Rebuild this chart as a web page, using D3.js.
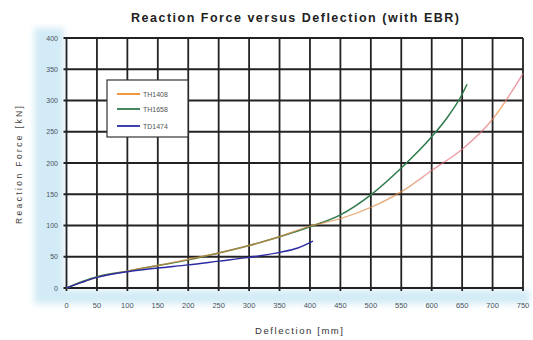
<!DOCTYPE html>
<html>
<head>
<meta charset="utf-8">
<script src="https://cdn.jsdelivr.net/npm/d3@7"></script>
<style>
  body { margin: 0; background: #fff; }
  svg { display: block; font-family: "Liberation Sans", Arial, sans-serif; }
</style>
</head>
<body>
<svg id="chart" width="533" height="340"></svg>
<script>
// data
var xTicks = [0, 50, 100, 150, 200, 250, 300, 350, 400, 450, 500, 550, 600, 650, 700, 750];
var yTicks = [0, 50, 100, 150, 200, 250, 300, 350, 400];

var th1658X = [0, 25, 50, 100, 150, 200, 250, 300, 350, 400, 450, 500, 550, 600, 625, 650, 658];
var th1658Y = [0, 10, 18, 27, 36, 45, 56, 68, 82, 98, 117, 149, 192, 242, 272, 310, 326];

var th1408X = [0, 25, 50, 100, 150, 200, 250, 300, 350, 400, 450, 500, 550, 600, 650, 700, 750];
var th1408Y = [0, 9, 17, 27, 36, 46, 56, 68, 82, 99, 111, 129, 154, 188, 222, 270, 343];

var td1474X = [0, 25, 50, 100, 150, 200, 250, 300, 350, 380, 405];
var td1474Y = [0, 9, 17, 26, 32, 37, 43, 49, 57, 64, 75];

var seriesNames = ["TH1408", "TH1658", "TD1474"];
var seriesColors = ["#f08c2a", "#2f7a4c", "#2b2ba3"];

var svg = d3.select("#chart");
var plotLeft = 66.5, plotRight = 523, plotTop = 38, plotBottom = 288;

var x = d3.scaleLinear().domain([0, 750]).range([plotLeft, plotRight]);
var y = d3.scaleLinear().domain([0, 400]).range([plotBottom, plotTop]);

var defs = svg.append("defs");
defs.append("filter").attr("id", "soft")
  .attr("x", "-20%").attr("y", "-20%").attr("width", "140%").attr("height", "140%")
  .append("feGaussianBlur").attr("stdDeviation", 3);

// orange line turns pinkish further out
var grad = defs.append("linearGradient").attr("id", "th1408grad")
  .attr("gradientUnits", "userSpaceOnUse")
  .attr("x1", x(0)).attr("x2", x(750)).attr("y1", 0).attr("y2", 0);
[[0, "#f08c2a"], [560, "#d98a4a"], [600, "#e2707c"], [690, "#e2687a"],
 [712, "#f08c2a"], [728, "#e2707c"], [750, "#e2687a"]].forEach(function (s) {
  grad.append("stop").attr("offset", s[0] / 750).attr("stop-color", s[1]);
});

// light blue band behind the tick labels
var band = svg.append("g").attr("filter", "url(#soft)");
band.append("rect").attr("x", 34).attr("y", 28).attr("width", 30).attr("height", 274).attr("fill", "#d3ebf6");
band.append("rect").attr("x", 34).attr("y", 290).attr("width", 496).attr("height", 14).attr("fill", "#d3ebf6");

// grid
svg.append("g").selectAll("line").data(xTicks).enter().append("line")
  .attr("x1", function (d) { return x(d); }).attr("x2", function (d) { return x(d); })
  .attr("y1", plotTop).attr("y2", plotBottom + 3)
  .attr("stroke", "#222").attr("stroke-width", 1.8);
svg.append("g").selectAll("line").data(yTicks).enter().append("line")
  .attr("x1", plotLeft - 3).attr("x2", plotRight)
  .attr("y1", function (d) { return y(d); }).attr("y2", function (d) { return y(d); })
  .attr("stroke", "#222").attr("stroke-width", 1.8);

// tick labels
svg.append("g").selectAll("text").data(xTicks).enter().append("text")
  .attr("x", function (d) { return x(d); }).attr("y", 308)
  .attr("text-anchor", "middle").attr("font-size", 7.5).attr("fill", "#4a5560")
  .text(function (d) { return d; });
svg.append("g").selectAll("text").data(yTicks).enter().append("text")
  .attr("x", 58).attr("y", function (d) { return y(d) + 2.5; })
  .attr("text-anchor", "end").attr("font-size", 7).attr("fill", "#4a5560")
  .text(function (d) { return d; });

// curves
var line = d3.line().x(function (d) { return x(d[0]); }).y(function (d) { return y(d[1]); })
  .curve(d3.curveMonotoneX);
var zip = function (a, b) { return a.map(function (v, i) { return [v, b[i]]; }); };

var plot = svg.append("g");
plot.append("path").datum(zip(th1658X, th1658Y)).attr("d", line)
  .attr("fill", "none").attr("stroke", seriesColors[1]).attr("stroke-width", 1.5);
plot.append("path").datum(zip(th1408X, th1408Y)).attr("d", line)
  .attr("fill", "none").attr("stroke", "url(#th1408grad)").attr("stroke-width", 1.5)
  .attr("stroke-opacity", 0.65);
plot.append("path").datum(zip(td1474X, td1474Y)).attr("d", line)
  .attr("fill", "none").attr("stroke", seriesColors[2]).attr("stroke-width", 1.5);

// legend
var lg = svg.append("g").attr("transform", "translate(107,80)");
lg.append("rect").attr("width", 81).attr("height", 57)
  .attr("fill", "#fff").attr("stroke", "#333").attr("stroke-width", 1.2);
var item = lg.selectAll(".item").data(seriesNames).enter().append("g")
  .attr("transform", function (d, i) { return "translate(0," + [14, 29, 46][i] + ")"; });
item.append("line").attr("x1", 10).attr("x2", 33).attr("y1", 0).attr("y2", 0)
  .attr("stroke", function (d, i) { return seriesColors[i]; }).attr("stroke-width", 1.8);
item.append("text").attr("x", 36).attr("y", 2.5).attr("font-size", 7)
  .attr("fill", "#555").text(function (d) { return d; });

// titles
svg.append("text").attr("x", 295).attr("y", 22).attr("text-anchor", "middle")
  .attr("font-size", 12.5).attr("font-weight", "bold").attr("fill", "#222")
  .attr("textLength", 328).attr("lengthAdjust", "spacing")
  .text("Reaction Force versus Deflection (with EBR)");
svg.append("text").attr("x", 299).attr("y", 334).attr("text-anchor", "middle")
  .attr("font-size", 9.5).attr("fill", "#333")
  .attr("textLength", 88).attr("lengthAdjust", "spacing")
  .text("Deflection [mm]");
svg.append("text").attr("transform", "translate(22,165) rotate(-90)")
  .attr("text-anchor", "middle").attr("font-size", 8.5).attr("fill", "#444")
  .attr("textLength", 118).attr("lengthAdjust", "spacing")
  .text("Reaction Force [kN]");
</script>
</body>
</html>
